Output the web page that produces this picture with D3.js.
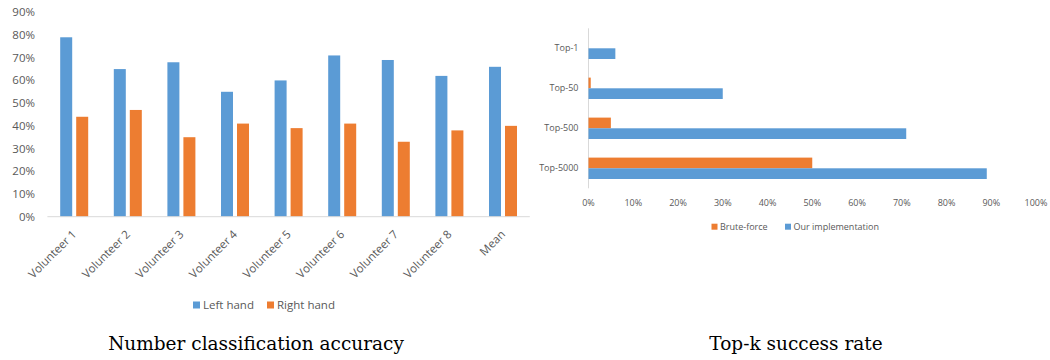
<!DOCTYPE html>
<html>
<head>
<meta charset="utf-8">
<script src="https://cdn.jsdelivr.net/npm/d3@7"></script>
<style>
  html, body { margin: 0; padding: 0; background: #fff; }
  svg { display: block; }
  .tick-label { font-family: "Open Sans", sans-serif; fill: #595959; }
  .title { font-family: "DejaVu Serif", serif; fill: #000; }
</style>
</head>
<body>
<svg id="chart" width="1050" height="360"></svg>
<script>
// ---- Number classification accuracy ----
const volunteers = ["Volunteer 1", "Volunteer 2", "Volunteer 3", "Volunteer 4",
  "Volunteer 5", "Volunteer 6", "Volunteer 7", "Volunteer 8", "Mean"];
const leftHand  = [79, 65, 68, 55, 60, 71, 69, 62, 66];
const rightHand = [44, 47, 35, 41, 39, 41, 33, 38, 40];
const accuracyTicks = [0, 10, 20, 30, 40, 50, 60, 70, 80, 90];

// ---- Top-k success rate ----
const topK = ["Top-1", "Top-50", "Top-500", "Top-5000"];
const bruteForce = [0, 0.5, 5, 50];
const ourImpl = [6, 30, 71, 89];
const successTicks = [0, 10, 20, 30, 40, 50, 60, 70, 80, 90, 100];

const BLUE = "#5B9BD5", ORANGE = "#ED7D31", AXIS = "#D9D9D9";
const svg = d3.select("#chart");

// ===== Left: grouped column chart =====
{
  const g = svg.append("g");
  const x0 = d3.scaleBand().domain(volunteers).range([47.4, 529.8]).padding(0);
  const bw = x0.bandwidth();
  const x1 = d3.scaleBand().domain(["left", "right"])
    .range([bw / 2 - 14, bw / 2 + 14]).paddingInner(0.25);
  const y = d3.scaleLinear().domain([0, 90]).range([216.7, 12.3]);

  // value labels on the y axis
  g.selectAll("text.ytick").data(accuracyTicks).join("text")
    .attr("class", "tick-label")
    .attr("x", 35).attr("y", d => y(d)).attr("dy", "0.35em")
    .attr("text-anchor", "end").style("font-size", "11.5px")
    .text(d => d + "%");

  const rows = volunteers.map((v, i) => ({ v, left: leftHand[i], right: rightHand[i] }));
  const grp = g.selectAll("g.grp").data(rows).join("g")
    .attr("transform", d => `translate(${x0(d.v)},0)`);
  grp.selectAll("rect").data(d => [
      { k: "left", val: d.left, c: BLUE },
      { k: "right", val: d.right, c: ORANGE }])
    .join("rect")
    .attr("x", d => x1(d.k)).attr("width", x1.bandwidth())
    .attr("y", d => y(d.val)).attr("height", d => y(0) - y(d.val))
    .attr("fill", d => d.c);

  // baseline
  g.append("line").attr("x1", 47.4).attr("x2", 529.8)
    .attr("y1", y(0)).attr("y2", y(0))
    .attr("stroke", AXIS).attr("stroke-width", 1);

  // rotated category labels
  g.selectAll("text.xlab").data(volunteers).join("text")
    .attr("class", "tick-label").style("font-size", "11.5px")
    .attr("text-anchor", "end")
    .attr("transform", d => `translate(${x0(d) + bw / 2 + 3},${235}) rotate(-45)`)
    .text(d => d);

  // legend
  const leg = g.append("g").attr("transform", "translate(193,305)");
  const items = [{ t: "Left hand", c: BLUE, x: 0 }, { t: "Right hand", c: ORANGE, x: 74 }];
  items.forEach(it => {
    leg.append("rect").attr("x", it.x).attr("y", -3.5).attr("width", 7).attr("height", 7).attr("fill", it.c);
    leg.append("text").attr("class", "tick-label").style("font-size", "11.5px")
      .attr("x", it.x + 10).attr("y", 0).attr("dy", "0.35em").text(it.t);
  });

  g.append("text").attr("class", "title").style("font-size", "18.5px")
    .attr("x", 256).attr("y", 350).attr("text-anchor", "middle")
    .text("Number classification accuracy");
}

// ===== Right: horizontal grouped bar chart =====
{
  const g = svg.append("g");
  const x = d3.scaleLinear().domain([0, 100]).range([588.5, 1036]);
  const y0 = d3.scaleBand().domain(topK).range([28.3, 188.3]).padding(0);
  const bh = 10.7;

  g.append("line").attr("x1", x(0)).attr("x2", x(0))
    .attr("y1", 28.3).attr("y2", 188.3)
    .attr("stroke", AXIS).attr("stroke-width", 1);

  const rows = topK.map((k, i) => ({ k, bf: bruteForce[i], ours: ourImpl[i] }));
  const grp = g.selectAll("g.grp").data(rows).join("g")
    .attr("transform", d => `translate(0,${y0(d.k) + y0.bandwidth() / 2})`);
  grp.selectAll("rect").data(d => [
      { val: d.bf, c: ORANGE, off: -bh },
      { val: d.ours, c: BLUE, off: 0 }])
    .join("rect")
    .attr("x", x(0)).attr("y", d => d.off)
    .attr("width", d => x(d.val) - x(0)).attr("height", bh)
    .attr("fill", d => d.c);

  g.selectAll("text.ylab").data(topK).join("text")
    .attr("class", "tick-label").style("font-size", "9px")
    .attr("x", 578.5).attr("y", d => y0(d) + y0.bandwidth() / 2).attr("dy", "0.35em")
    .attr("text-anchor", "end").text(d => d);

  g.selectAll("text.xtick").data(successTicks).join("text")
    .attr("class", "tick-label").style("font-size", "9px")
    .attr("x", d => x(d)).attr("y", 202.7).attr("dy", "0.35em")
    .attr("text-anchor", "middle").text(d => d + "%");

  const leg = g.append("g").attr("transform", "translate(711.5,226.7)");
  const items = [{ t: "Brute-force", c: ORANGE, x: 0 }, { t: "Our implementation", c: BLUE, x: 73.5 }];
  items.forEach(it => {
    leg.append("rect").attr("x", it.x).attr("y", -3).attr("width", 6).attr("height", 6).attr("fill", it.c);
    leg.append("text").attr("class", "tick-label").style("font-size", "9px")
      .attr("x", it.x + 8.5).attr("y", 0).attr("dy", "0.35em").text(it.t);
  });

  g.append("text").attr("class", "title").style("font-size", "18.5px")
    .attr("x", 796).attr("y", 350).attr("text-anchor", "middle")
    .text("Top-k success rate");
}
</script>
</body>
</html>
